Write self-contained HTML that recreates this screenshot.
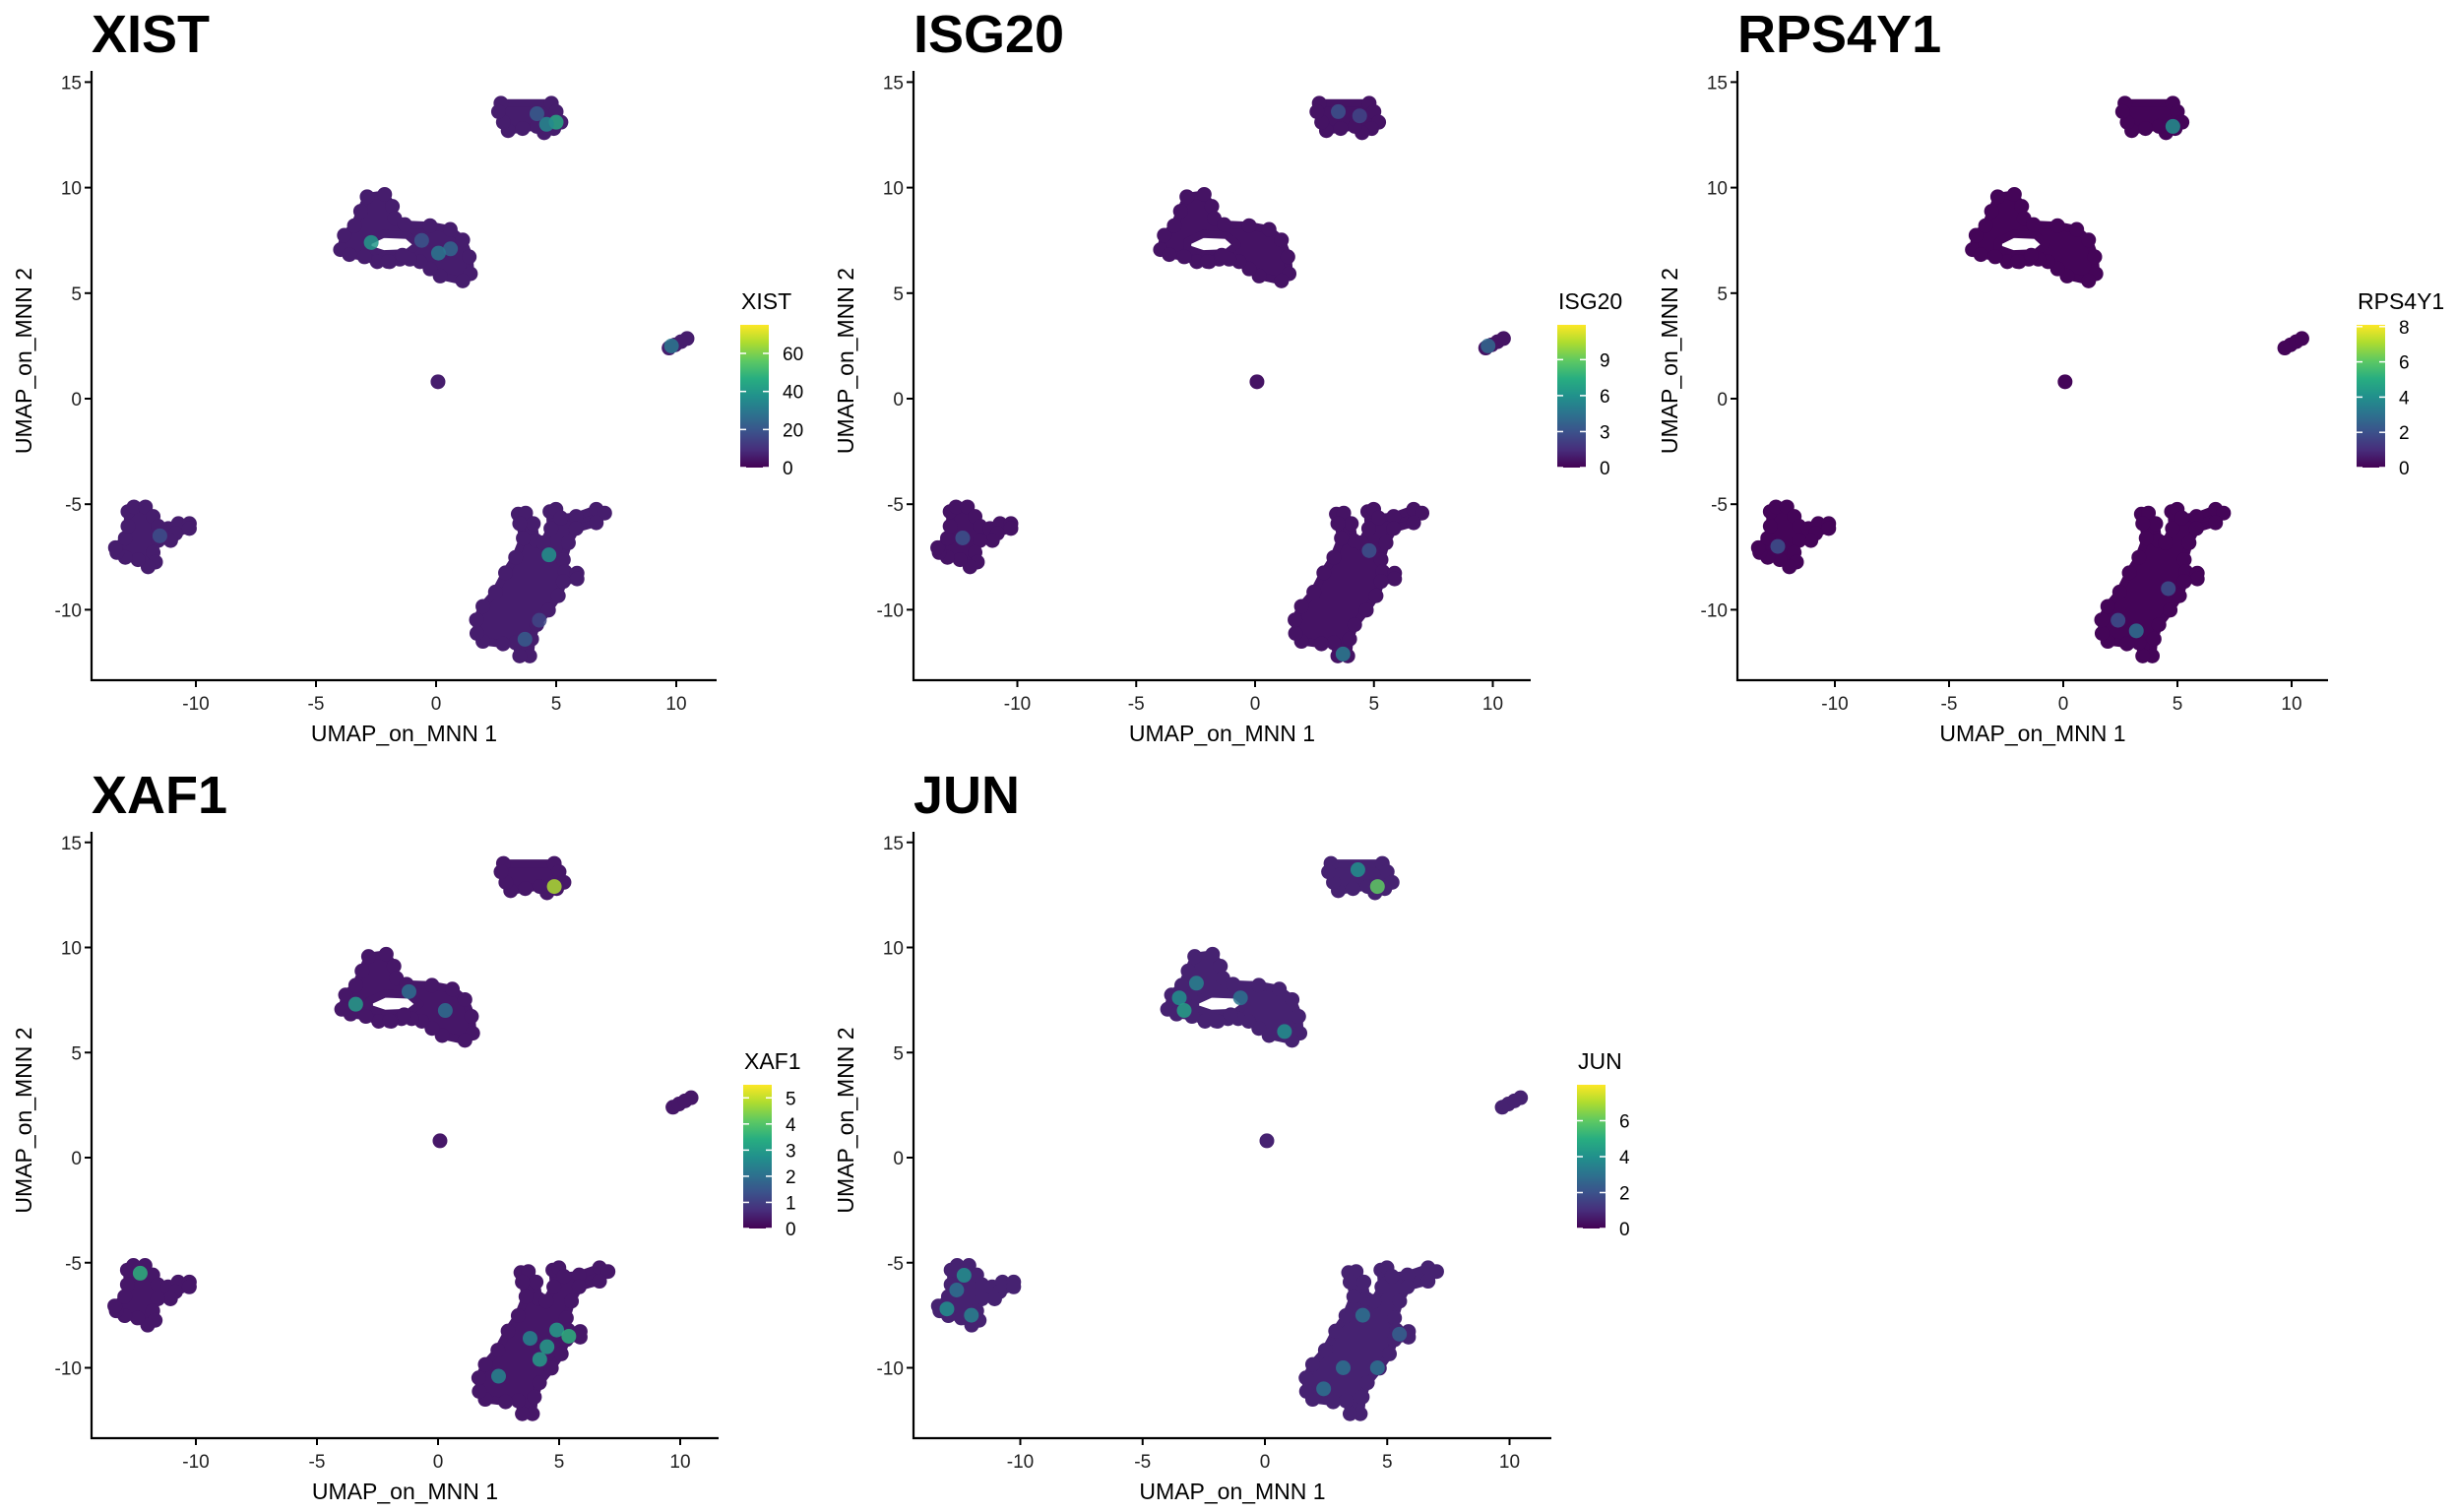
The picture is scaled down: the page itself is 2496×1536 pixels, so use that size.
<!DOCTYPE html>
<html><head><meta charset="utf-8">
<style>
html,body{margin:0;padding:0;background:#fff;}
svg{display:block;font-family:"Liberation Sans",Arial,sans-serif;}
</style></head>
<body>
<svg id="fig" width="2496" height="1536" viewBox="0 0 2496 1536" xmlns="http://www.w3.org/2000/svg">
<defs>
<linearGradient id="vir" x1="0" y1="1" x2="0" y2="0">
<stop offset="0" stop-color="#440154"/><stop offset="0.125" stop-color="#472d7b"/>
<stop offset="0.25" stop-color="#3b528b"/><stop offset="0.375" stop-color="#2c728e"/>
<stop offset="0.5" stop-color="#21918c"/><stop offset="0.625" stop-color="#28ae80"/>
<stop offset="0.75" stop-color="#5ec962"/><stop offset="0.875" stop-color="#addc30"/>
<stop offset="1" stop-color="#fde725"/></linearGradient>
</defs>
</svg>
<script>
// ---- data (UMAP coordinates) ----
const clusterTop = [[2.7,14.0],[4.8,14.0],[5.0,13.6],[5.2,13.1],[4.9,12.8],[4.5,12.6],[4.2,12.9],[3.6,12.8],[3.0,12.7],[2.8,13.1],[2.6,13.6]];
const clusterMid = [[-3.98,7.06],[-3.82,7.74],[-3.40,8.20],[-3.14,8.88],[-2.87,9.57],[-2.14,9.68],[-1.82,9.11],[-1.72,8.54],[-1.30,8.25],[-0.25,8.20],[0.59,8.02],[1.11,7.52],[1.38,6.72],[1.43,5.92],[1.11,5.58],[0.17,5.81],[-0.25,6.15],[-0.67,6.49],[-1.09,6.61],[-1.51,6.61],[-1.93,6.49],[-2.45,6.49],[-2.98,6.72],[-3.61,6.83]];
const clusterMidHole = [[-2.85,7.45],[-2.2,7.8],[-1.2,7.75],[-0.75,7.3],[-1.2,6.9],[-2.2,6.85],[-2.85,7.1]];
const clusterLeft = [[-12.83,-5.35],[-12.58,-5.13],[-12.10,-5.13],[-11.78,-5.58],[-11.57,-6.04],[-11.15,-6.15],[-10.73,-5.92],[-10.27,-5.92],[-10.27,-6.15],[-10.84,-6.38],[-11.05,-6.72],[-11.57,-6.72],[-11.78,-7.29],[-11.68,-7.74],[-11.99,-7.97],[-12.41,-7.63],[-12.94,-7.52],[-13.29,-7.29],[-13.35,-7.06],[-12.94,-6.61],[-12.83,-6.04]];
const clusterBottom = [[3.42,-5.47],[3.73,-5.42],[4.05,-5.92],[4.15,-6.72],[4.47,-6.83],[4.78,-6.15],[4.74,-5.35],[4.99,-5.24],[5.20,-5.65],[5.83,-5.58],[6.67,-5.24],[7.02,-5.42],[6.67,-5.88],[5.83,-6.15],[5.51,-6.83],[5.30,-7.63],[5.37,-8.20],[5.87,-8.27],[5.87,-8.54],[5.30,-8.66],[5.09,-9.34],[4.68,-10.02],[4.19,-10.71],[3.98,-11.39],[3.90,-12.19],[3.48,-12.19],[3.31,-11.57],[2.79,-11.62],[1.95,-11.50],[1.70,-11.12],[1.68,-10.48],[1.95,-9.84],[2.47,-9.16],[2.89,-8.25],[3.31,-7.52],[3.63,-6.61],[3.48,-5.92]];
const clusterRight = [[9.7,2.4],[9.95,2.55],[10.2,2.7],[10.45,2.85]];
const singlePoints = [[0.08,0.8],[-2.0,6.5],[-1.4,6.8]];
const xTicks = [-10,-5,0,5,10];
const yTicks = [-10,-5,0,5,10,15];
const geneNames = ["XIST","ISG20","RPS4Y1","XAF1","JUN"];
const geneMax = [75,11.9,8.1,5.5,8.0];
const baseValues = [6,0.6,0.1,0.35,0.75];
const legendTicksXIST = [0,20,40,60];
const legendTicksISG20 = [0,3,6,9];
const legendTicksRPS4Y1 = [0,2,4,6,8];
const legendTicksXAF1 = [0,1,2,3,4,5];
const legendTicksJUN = [0,2,4,6];
const hiXIST = [[5.0,13.1,45],[4.6,13.0,35],[4.2,13.5,22],[-2.7,7.4,40],[0.6,7.1,25],[-0.6,7.5,20],[0.1,6.9,30],[9.8,2.5,30],[4.7,-7.4,38],[3.7,-11.4,22],[4.3,-10.5,16],[-11.5,-6.5,18]];
const hiISG20 = [[3.5,13.6,3],[4.4,13.4,2.5],[3.7,-12.1,5],[9.8,2.5,4],[-12.3,-6.6,3],[4.8,-7.2,3]];
const hiRPS4Y1 = [[4.8,12.9,4],[3.2,-11.0,3],[-12.5,-7.0,2],[4.6,-9.0,2],[2.4,-10.5,2]];
const hiXAF1 = [[4.5,-9.0,3],[4.9,-8.2,3],[5.4,-8.5,3.5],[4.2,-9.6,3],[3.8,-8.6,2.5],[-12.3,-5.5,3.5],[-3.4,7.3,3],[2.5,-10.4,2.5],[4.8,12.9,4.8],[-1.2,7.9,2],[0.3,7.0,2]];
const hiJUN = [[-13.0,-7.2,4],[-12.3,-5.6,4],[-12.0,-7.5,3.5],[-12.6,-6.3,3],[-3.5,7.6,4],[-2.8,8.3,3.5],[-1.0,7.6,3],[0.8,6.0,4],[-3.3,7.0,4.5],[3.8,13.7,4],[4.6,12.9,6],[4.0,-7.5,3],[3.2,-10.0,3],[2.4,-11.0,3],[4.6,-10.0,3],[5.5,-8.4,2.5]];
const legendTickSets = [legendTicksXIST,legendTicksISG20,legendTicksRPS4Y1,legendTicksXAF1,legendTicksJUN];
const highlightSets = [hiXIST,hiISG20,hiRPS4Y1,hiXAF1,hiJUN];

// ---- layout ----
const panels = [
 {ax:93,  x0:443, xs:24.4,  right:728,  top:72,  bot:691,  y0:405,  ys:21.44, lx:752,  lt:330,  lb:475, yt:24},
 {ax:928, x0:1275,xs:24.15, right:1555, top:72,  bot:691,  y0:405,  ys:21.44, lx:1582, lt:330,  lb:475, yt:859},
 {ax:1765,x0:2096,xs:23.2,  right:2365, top:72,  bot:691,  y0:405,  ys:21.44, lx:2394, lt:330,  lb:475, yt:1696},
 {ax:93,  x0:445, xs:24.6,  right:730,  top:845, bot:1461, y0:1176, ys:21.35, lx:755,  lt:1102, lb:1248, yt:24},
 {ax:928, x0:1285,xs:24.85, right:1576, top:845, bot:1461, y0:1176, ys:21.35, lx:1602, lt:1102, lb:1248, yt:859}
];
const NS="http://www.w3.org/2000/svg";
const svg=document.getElementById('fig');
function mk(tag,attrs,parent){const e=document.createElementNS(NS,tag);for(const k in attrs)e.setAttribute(k,attrs[k]);(parent||svg).appendChild(e);return e;}
const vstops=["#440154","#472d7b","#3b528b","#2c728e","#21918c","#28ae80","#5ec962","#addc30","#fde725"];
function hex(c){return [parseInt(c.slice(1,3),16),parseInt(c.slice(3,5),16),parseInt(c.slice(5,7),16)];}
function viridis(t){t=Math.max(0,Math.min(1,t));const p=t*8,i=Math.min(7,Math.floor(p)),f=p-i;const a=hex(vstops[i]),b=hex(vstops[i+1]);return `rgb(${a.map((v,k)=>Math.round(v+(b[k]-v)*f)).join(',')})`;}

panels.forEach((P,pi)=>{
  const g=mk('g',{});
  
  
  const X=v=>P.x0+v*P.xs, Y=v=>P.y0-v*P.ys;
  const base=viridis(baseValues[pi]/geneMax[pi]);
  const clusters=[clusterTop,clusterMid,clusterLeft,clusterBottom];
  clusters.forEach((c,ci)=>{
    let d='M'+c.map(p=>X(p[0]).toFixed(1)+','+Y(p[1]).toFixed(1)).join('L')+'Z';
    if(ci===1) d+='M'+clusterMidHole.map(p=>X(p[0]).toFixed(1)+','+Y(p[1]).toFixed(1)).join('L')+'Z';
    const path=mk('path',{d:d,fill:base,'fill-rule':'evenodd',stroke:base,'stroke-width':8,'stroke-linejoin':'round'},g);
    
    
    c.forEach(p=>{const ci2=mk('circle',{cx:X(p[0]),cy:Y(p[1]),r:7.5,fill:base},g);
      
      });
  });
  clusterRight.concat(singlePoints).forEach(p=>{const c=mk('circle',{cx:X(p[0]),cy:Y(p[1]),r:7.5,fill:base},g);
    
    });
  highlightSets[pi].forEach(p=>{const c=mk('circle',{cx:X(p[0]),cy:Y(p[1]),r:7.5,fill:viridis(p[2]/geneMax[pi]),'fill-opacity':0.85},g);
    
    });
  const ax=mk('path',{d:`M${P.ax},${P.top}V${P.bot}H${P.right}`,fill:'none',stroke:'#000','stroke-width':2.2},g);
  
  
  xTicks.forEach(t=>{const x=X(t);
    mk('line',{x1:x,x2:x,y1:P.bot,y2:P.bot+7,stroke:'#000','stroke-width':2},g);
    const tx=mk('text',{x:x,y:P.bot+30,'text-anchor':'middle','font-size':19,fill:'#222'},g);
    
    
    tx.textContent=t;});
  yTicks.forEach(t=>{const y=Y(t);
    mk('line',{x1:P.ax-7,x2:P.ax,y1:y,y2:y,stroke:'#000','stroke-width':2},g);
    const tx=mk('text',{x:P.ax-10,y:y+7,'text-anchor':'end','font-size':19,fill:'#222'},g);
    
    
    tx.textContent=t;});
  const xt=mk('text',{x:(P.ax+P.right)/2,y:P.bot+62,'text-anchor':'middle','font-size':23,fill:'#000'},g);
  
  
  xt.textContent='UMAP_on_MNN 1';
  const yc=(P.top+P.bot)/2-15;
  const yt=mk('text',{x:P.yt+8,y:yc,'text-anchor':'middle','font-size':23,fill:'#000',transform:`rotate(-90 ${P.yt+8} ${yc})`},g);
  
  
  yt.textContent='UMAP_on_MNN 2';
  const tt=mk('text',{x:P.ax,y:P.top-19,'font-size':54,'font-weight':'bold',fill:'#000'},g);
  
  
  tt.textContent=geneNames[pi];
  const lt=mk('text',{x:P.lx+1,y:P.lt-16,'font-size':23,fill:'#000'},g);
  
  
  lt.textContent=geneNames[pi];
  const bar=mk('rect',{x:P.lx,y:P.lt,width:29,height:P.lb-P.lt,fill:'url(#vir)'},g);
  
  
  legendTickSets[pi].forEach(t=>{const y=P.lb-t/geneMax[pi]*(P.lb-P.lt);
    mk('line',{x1:P.lx,x2:P.lx+6,y1:y,y2:y,stroke:'#fff','stroke-width':1.5},g);
    mk('line',{x1:P.lx+23,x2:P.lx+29,y1:y,y2:y,stroke:'#fff','stroke-width':1.5},g);
    const tx=mk('text',{x:P.lx+43,y:y+7,'font-size':19,fill:'#000'},g);
    
    
    tx.textContent=t;});
});
</script>
</body></html>
